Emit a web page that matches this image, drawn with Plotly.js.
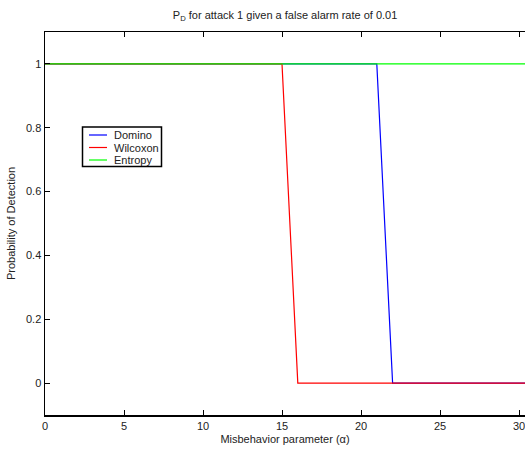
<!DOCTYPE html>
<html>
<head>
<meta charset="utf-8">
<script src="https://cdn.plot.ly/plotly-3.0.1.min.js"></script>
<style>html,body{margin:0;padding:0;overflow:hidden;background:#fff}</style>
</head>
<body>
<div id="chart" style="width:525px;height:452px"></div>
<script>
const alpha = [0,1,2,3,4,5,6,7,8,9,10,11,12,13,14,15,16,17,18,19,20,21,22,23,24,25,26,27,28,29,30,31];
const domino   = [1,1,1,1,1,1,1,1,1,1,1,1,1,1,1,1,1,1,1,1,1,1,0,0,0,0,0,0,0,0,0,0];
const wilcoxon = [1,1,1,1,1,1,1,1,1,1,1,1,1,1,1,1,0,0,0,0,0,0,0,0,0,0,0,0,0,0,0,0];
const entropy  = [1,1,1,1,1,1,1,1,1,1,1,1,1,1,1,1,1,1,1,1,1,1,1,1,1,1,1,1,1,1,1,1];
const names = ['Domino','Wilcoxon','Entropy'];
const colors = ['#0000ff','#ff0000','#00ff00'];
const xTicks = [0,5,10,15,20,25,30];
const yTicks = [0,0.2,0.4,0.6,0.8,1];
const series = [domino, wilcoxon, entropy];

const traces = series.map((s,i)=>({
  x: alpha, y: s, type:'scatter', mode:'lines', name: names[i],
  line:{color:colors[i], width:1.2}, showlegend:false
}));

const fam = '"Liberation Sans", Arial, sans-serif';
const font = {family:fam, size:11, color:'#222'};

// legend box drawn in pixel space, converted to paper coords
const L = 45, T = 32, W = 480, H = 383;
const px = v => (v - L) / W;
const py = v => (T + H - v) / H;
const shapes = [{type:'rect', xref:'paper', yref:'paper', x0:px(82.5), x1:px(161.5), y0:py(127), y1:py(166.5),
  line:{color:'#000', width:1.5}, fillcolor:'#fff', layer:'above'}];
const annotations = [];
names.forEach((n,i)=>{
  const yy = 135 + i*12.5;
  shapes.push({type:'line', xref:'paper', yref:'paper', x0:px(89), x1:px(107), y0:py(yy), y1:py(yy),
    line:{color:colors[i], width:1.2}, layer:'above'});
  annotations.push({xref:'paper', yref:'paper', x:px(112), y:py(yy), xanchor:'left', yanchor:'middle',
    text:n, showarrow:false, font:font});
});

const layout = {
  width:525, height:452,
  margin:{l:45, r:0, t:32, b:37},
  paper_bgcolor:'#fff', plot_bgcolor:'#fff',
  font: font,
  title:{text:'P<sub>D</sub> for attack 1 given a false alarm rate of 0.01', font:{family:fam,size:11,color:'#222'}, x:0.543, xanchor:'center', y:0.975, yanchor:'top'},
  xaxis:{
    range:[0,30.38], tickvals:xTicks, ticktext:xTicks.map(String),
    ticks:'inside', ticklen:5, tickcolor:'#000', showline:true, linecolor:'#000', linewidth:1.5,
    mirror:'ticks', showgrid:false, zeroline:false, ticklabeloverflow:'allow',
    title:{text:'Misbehavior parameter (α)', font:{family:fam,size:11,color:'#222'}, standoff:4}
  },
  yaxis:{
    range:[-0.1,1.1], tickvals:yTicks, ticktext:yTicks.map(String),
    ticks:'inside', ticklen:5, tickcolor:'#000', showline:true, linecolor:'#000', linewidth:1.5,
    showgrid:false, zeroline:false,
    title:{text:'Probability of Detection', font:{family:fam,size:11,color:'#222'}, standoff:8}
  },
  shapes: shapes,
  annotations: annotations,
  showlegend:false
};
Plotly.newPlot('chart', traces, layout, {displayModeBar:false, staticPlot:true});
</script>
</body>
</html>
